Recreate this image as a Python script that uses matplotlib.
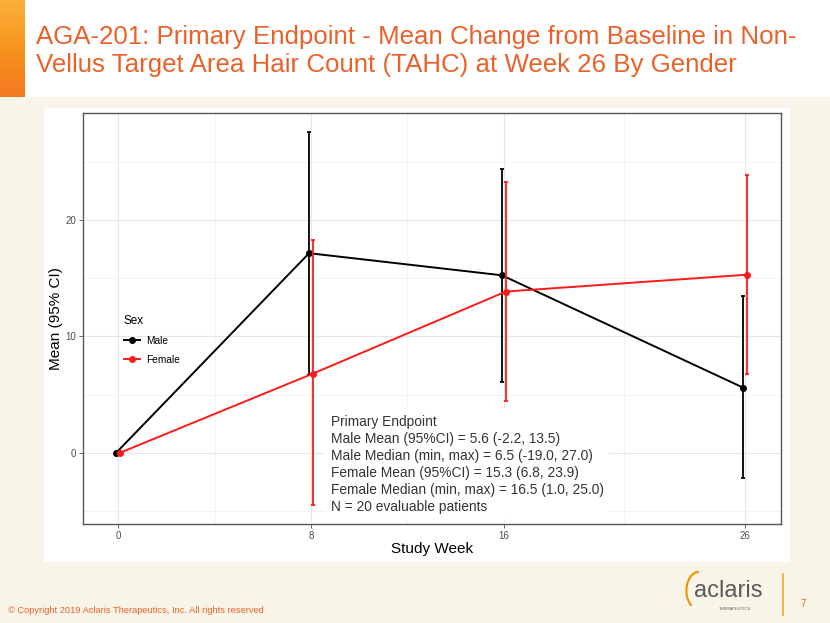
import numpy as np
import matplotlib.pyplot as plt
from matplotlib.lines import Line2D
from matplotlib.patches import Rectangle, Arc

plt.rcParams['font.family'] = ['Liberation Sans', 'DejaVu Sans']

# 数据
weeks = [0, 8, 16, 26]
male_mean = [0, 17.15, 15.25, 5.6]
male_lo = [0, 6.7, 6.1, -2.2]
male_hi = [0, 27.6, 24.4, 13.5]
female_mean = [0, 6.8, 13.85, 15.3]
female_lo = [0, -4.5, 4.45, 6.8]
female_hi = [0, 18.25, 23.3, 23.9]
x_ticks = [0, 8, 16, 26]
x_minor = [4, 12, 21]
y_ticks = [0, 10, 20]
y_minor = [-5, 5, 15, 25]

title = ('AGA-201: Primary Endpoint - Mean Change from Baseline in Non-\n'
         'Vellus Target Area Hair Count (TAHC) at Week 26 By Gender')
note = ('Primary Endpoint\n'
        'Male Mean (95%CI) = 5.6 (-2.2, 13.5)\n'
        'Male Median (min, max) = 6.5 (-19.0, 27.0)\n'
        'Female Mean (95%CI) = 15.3 (6.8, 23.9)\n'
        'Female Median (min, max) = 16.5 (1.0, 25.0)\n'
        'N = 20 evaluable patients')

orange = '#e8622a'
fig = plt.figure(figsize=(8.3, 6.23), dpi=100)
fig.patch.set_facecolor('#f8f5e8')

# 标题区域
fig.add_artist(Rectangle((0, 0.8443), 1, 0.1557, transform=fig.transFigure,
                         facecolor='white', edgecolor='none', zorder=0))
grad = np.linspace(0, 1, 50).reshape(-1, 1)
bax = fig.add_axes([0, 0.8443, 0.029, 0.1557])
bax.imshow(grad, aspect='auto', cmap=plt.matplotlib.colors.LinearSegmentedColormap.from_list(
    'o', ['#fbb03b', '#f7941d', '#f47920']))
bax.axis('off')
fig.text(0.043, 0.918, title, color=orange, fontsize=18.6, va='center', ha='left',
         linespacing=1.2)

# 图片白底
fig.add_artist(Rectangle((0.053, 0.098), 0.899, 0.7287, transform=fig.transFigure,
                         facecolor='white', edgecolor='none', zorder=0))

ax = fig.add_axes([0.1, 0.1589, 0.841, 0.6597])
ax.set_xlim(-1.46, 27.5)
ax.set_ylim(-6.13, 29.2)
ax.set_xticks(x_ticks)
ax.set_xticks(x_minor, minor=True)
ax.set_yticks(y_ticks)
ax.set_yticks(y_minor, minor=True)
ax.grid(True, which='major', color='#e6e6e6', linewidth=0.8)
ax.grid(True, which='minor', color='#f0f0f0', linewidth=0.6)
ax.set_axisbelow(True)
ax.tick_params(which='major', labelsize=7, colors='#4d4d4d', length=3, width=0.6, pad=2)
ax.tick_params(which='minor', length=0)
for s in ax.spines.values():
    s.set_color('#555555')
    s.set_linewidth(1.0)

d = 0.08
xm = np.array(weeks) - d
xf = np.array(weeks) + d
ax.errorbar(xm, male_mean,
            yerr=[np.array(male_mean) - np.array(male_lo), np.array(male_hi) - np.array(male_mean)],
            color='black', lw=1.4, elinewidth=1.3, capsize=1.5, capthick=1.3,
            marker='o', markersize=4, zorder=3)
ax.errorbar(xf, female_mean,
            yerr=[np.array(female_mean) - np.array(female_lo), np.array(female_hi) - np.array(female_mean)],
            color='#ff1a1a', lw=1.4, elinewidth=1.3, capsize=1.5, capthick=1.3,
            marker='o', markersize=4, zorder=4)

ax.set_xlabel('Study Week', fontsize=11, color='black', labelpad=1)
ax.set_ylabel('Mean (95% CI)', fontsize=11, color='black', labelpad=2)

handles = [Line2D([], [], color='black', marker='o', markersize=4, lw=1.4),
           Line2D([], [], color='#ff1a1a', marker='o', markersize=4, lw=1.4)]
leg = ax.legend(handles, ['Male', 'Female'], title='Sex', loc='upper left',
                bbox_to_anchor=(0.045, 0.53), frameon=False, fontsize=7.3,
                title_fontsize=8.5, handlelength=1.6, handletextpad=0.6,
                labelspacing=0.85, alignment='left')

ax.text(0.355, 0.266, note, transform=ax.transAxes, ha='left', va='top',
        fontsize=9.9, color='#333333', linespacing=1.27, zorder=5,
        bbox=dict(facecolor='white', edgecolor='none', pad=4))

# 页脚
fig.text(0.01, 0.013, '\u00a9 Copyright 2019 Aclaris Therapeutics, Inc. All rights reserved',
         color=orange, fontsize=6.7, ha='left', va='bottom')
fig.text(0.878, 0.033, 'aclaris', color='#5a5a5a', fontsize=17, ha='center', va='bottom')
fig.text(0.886, 0.02, 'THERAPEUTICS', color='#5a5a5a', fontsize=3, ha='center', va='bottom')
fig.add_artist(Arc((0.842, 0.052), 0.03, 0.06, theta1=90, theta2=250,
                   transform=fig.transFigure, color='#f39200', lw=1.5))
fig.add_artist(Line2D([0.943, 0.943], [0.013, 0.078], transform=fig.transFigure,
                      color='#f5a623', lw=1.2))
fig.text(0.968, 0.022, '7', color=orange, fontsize=7, ha='center', va='bottom')

fig.savefig('out.png', dpi=100, facecolor=fig.get_facecolor())
